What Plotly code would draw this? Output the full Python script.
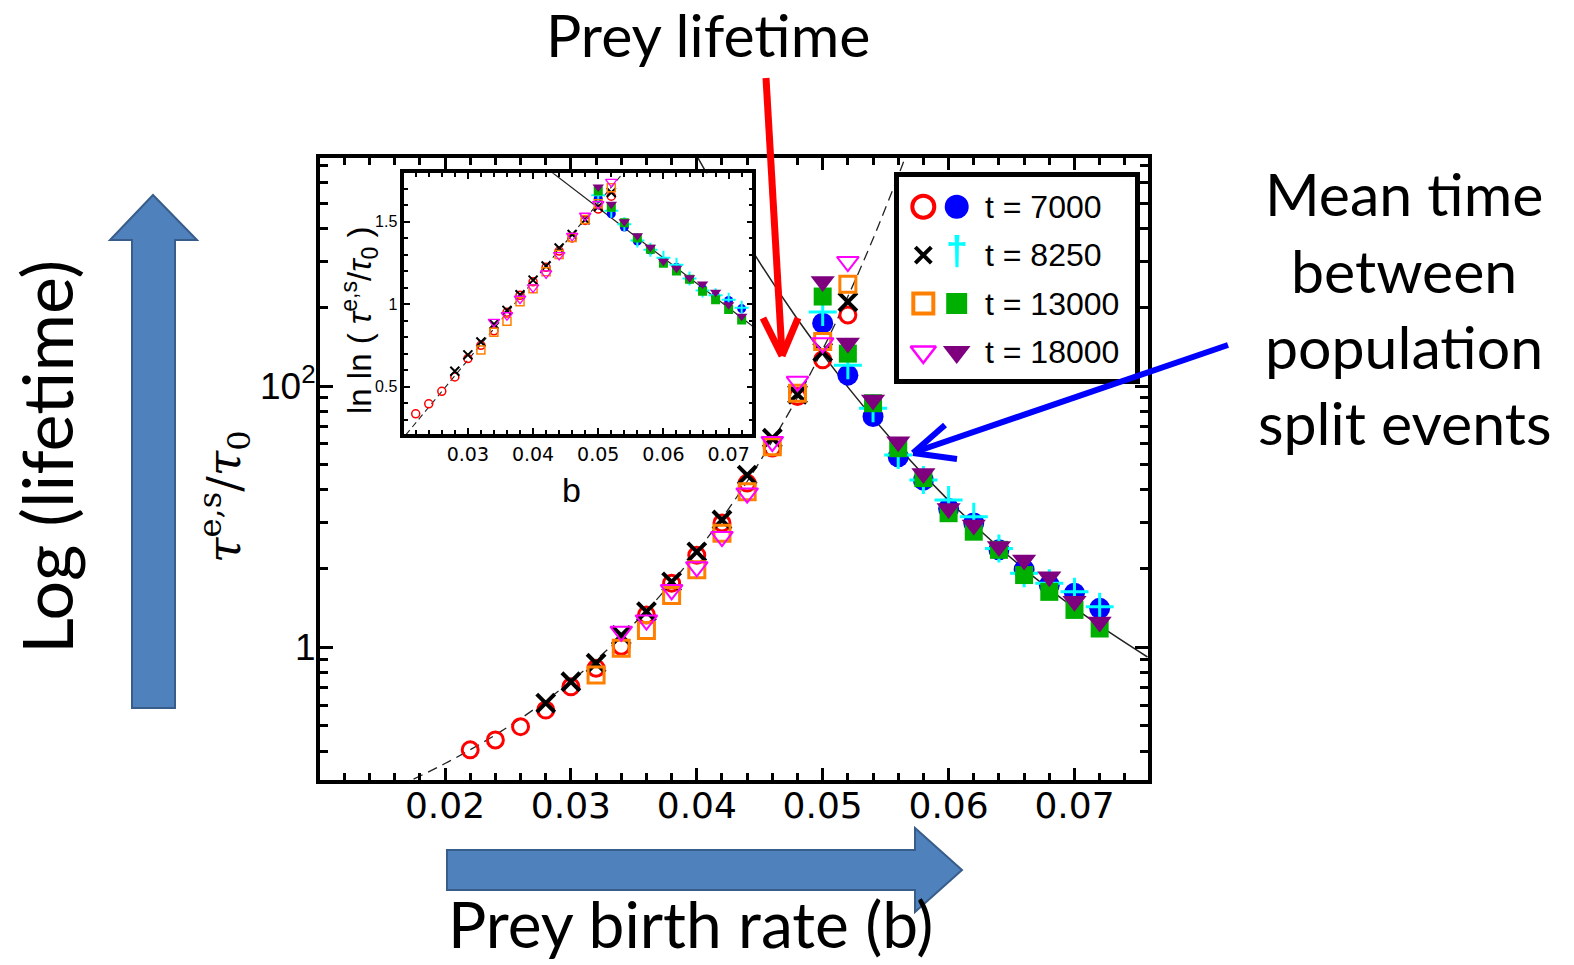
import numpy as np
import plotly.graph_objects as go

# ---------------- data ----------------
# extinction branch (open symbols)
b_ext_7000 = [0.022, 0.024, 0.026, 0.028, 0.030, 0.032, 0.034, 0.036, 0.038, 0.040, 0.042, 0.044, 0.046, 0.048, 0.050, 0.052]
tau_ext_7000 = [4.05, 4.42, 4.97, 5.75, 7.06, 8.32, 10.1, 13.3, 17.6, 22.5, 29.9, 42.5, 57.9, 91.2, 126, 187]
b_ext_8250 = [0.028, 0.030, 0.032, 0.034, 0.036, 0.038, 0.040, 0.042, 0.044, 0.046, 0.048, 0.050, 0.052]
tau_ext_8250 = [6.11, 7.38, 8.69, 11.1, 13.7, 17.8, 23.2, 30.7, 45.6, 63.1, 93.0, 135, 210]
b_ext_13000 = [0.032, 0.034, 0.036, 0.038, 0.040, 0.042, 0.044, 0.046, 0.048, 0.050, 0.052]
tau_ext_13000 = [7.83, 9.91, 11.6, 15.8, 19.8, 27.3, 39.4, 58.6, 93.8, 148, 245]
b_ext_18000 = [0.034, 0.036, 0.038, 0.040, 0.042, 0.044, 0.046, 0.048, 0.050, 0.052]
tau_ext_18000 = [11.5, 12.7, 16.6, 20.3, 26.5, 38.9, 61.2, 104, 146, 299]

# population split branch (filled symbols)
b_split = [0.050, 0.052, 0.054, 0.056, 0.058, 0.060, 0.062, 0.064, 0.066, 0.068, 0.070, 0.072]
tau_split_7000 = [174, 110, 76.4, 53.6, 43.6, 34.0, 29.9, 23.6, 19.8, 17.3, 16.1, 14.1]
tau_split_8250 = [192, 120, 82.2, 54.5, 43.7, 36.6, 31.6, 23.9, 19.2, 17.6, 16.3, 14.3]
tau_split_13000 = [220, 133, 85.9, 57.8, 44.4, 32.6, 27.7, 23.6, 18.9, 16.3, 13.9, 11.8]
tau_split_18000 = [251, 146, 88.3, 61.2, 46.3, 34.0, 29.4, 24.3, 21.6, 18.6, 15.0, 12.5]

# fitted curves, points
b_fit_ext = [0.0175, 0.020, 0.024, 0.028, 0.032, 0.036, 0.040, 0.044, 0.048, 0.050, 0.052, 0.054, 0.056, 0.0565]
tau_fit_ext = [3.13, 3.59, 4.62, 6.24, 8.95, 13.8, 23.2, 43.1, 90.4, 138, 220, 366, 637, 738]
b_fit_split = [0.0401, 0.044, 0.048, 0.052, 0.056, 0.060, 0.064, 0.068, 0.072, 0.0758]
tau_fit_split = [745, 354, 180, 99, 58.3, 36.5, 24.1, 16.7, 12.1, 9.18]

# inset straight fit lines (ln ln scale), end points
b_inset_fit_ext = [0.0205, 0.0540]
lnln_inset_fit_ext = [0.209, 1.804]
b_inset_fit_split = [0.0425, 0.0745]
lnln_inset_fit_split = [1.811, 0.841]

# tick labels
x_tick_vals = [0.02, 0.03, 0.04, 0.05, 0.06, 0.07]
x_tick_text = ["0.02", "0.03", "0.04", "0.05", "0.06", "0.07"]
y_tick_vals = [10, 100]
y_tick_text = ["1", "10<sup>2</sup>"]
y_minor_vals = [4, 5, 6, 7, 8, 9, 20, 30, 40, 50, 60, 70, 80, 90, 200, 300, 400, 500, 600, 700]
inset_x_tick_vals = [0.03, 0.04, 0.05, 0.06, 0.07]
inset_x_tick_text = ["0.03", "0.04", "0.05", "0.06", "0.07"]
inset_y_tick_vals = [0.5, 1.0, 1.5]
inset_y_tick_text = ["0.5", "1", "1.5"]
legend_labels = ["t = 7000", "t = 8250", "t = 13000", "t = 18000"]

# ---------------- layout geometry (pixels) ----------------
FIG_W, FIG_H = 1574, 965
PL, PR, PT, PB = 320, 1148, 158, 780


def px(x):
    return (x - PL) / (PR - PL)


def py(y):
    return (PB - y) / (PB - PT)


def lnln(vals):
    return np.log(np.log(np.asarray(vals, dtype=float)))


styles = {
    "e7000": dict(symbol="circle-open", color="#FF0000", lw=3, size=16, isize=8, ilw=1.5),
    "e8250": dict(symbol="x-thin-open", color="#000000", lw=4, size=18, isize=9, ilw=2),
    "e13000": dict(symbol="square-open", color="#FF8000", lw=3, size=16, isize=8, ilw=1.5),
    "e18000": dict(symbol="triangle-down-open", color="#FF00FF", lw=2, size=19, isize=10, ilw=1.3),
    "s7000": dict(symbol="circle", color="#0000FF", lw=0, size=21, isize=9, ilw=0),
    "s8250": dict(symbol="cross-thin-open", color="#00FFFF", lw=3, size=20, isize=10, ilw=2),
    "s13000": dict(symbol="square", color="#00B000", lw=0, size=18, isize=9, ilw=0),
    "s18000": dict(symbol="triangle-down", color="#7F007F", lw=0, size=21, isize=10, ilw=0),
}

series = [
    ("e7000", b_ext_7000, tau_ext_7000),
    ("s7000", b_split, tau_split_7000),
    ("e8250", b_ext_8250, tau_ext_8250),
    ("s8250", b_split, tau_split_8250),
    ("e13000", b_ext_13000, tau_ext_13000),
    ("s13000", b_split, tau_split_13000),
    ("e18000", b_ext_18000, tau_ext_18000),
    ("s18000", b_split, tau_split_18000),
]

fig = go.Figure()

# main fit curves
fig.add_trace(go.Scatter(x=b_fit_ext, y=tau_fit_ext, mode="lines", line=dict(color="#222222", width=1.3, dash="10px,6px", shape="spline"),
                         xaxis="x", yaxis="y", showlegend=False, hoverinfo="skip"))
fig.add_trace(go.Scatter(x=b_fit_split, y=tau_fit_split, mode="lines", line=dict(color="#222222", width=1.5, shape="spline"),
                         xaxis="x", yaxis="y", showlegend=False, hoverinfo="skip"))

# main data
for key, bx, ty in series:
    st = styles[key]
    fig.add_trace(go.Scatter(x=bx, y=ty, mode="markers", xaxis="x", yaxis="y", showlegend=False,
                             marker=dict(symbol=st["symbol"], color=st["color"], size=st["size"],
                                         line=dict(color=st["color"], width=st["lw"]))))

# inset fit lines
fig.add_trace(go.Scatter(x=b_inset_fit_ext, y=lnln_inset_fit_ext, mode="lines", line=dict(color="#222222", width=1.1, dash="6px,4px"),
                         xaxis="x2", yaxis="y2", showlegend=False, hoverinfo="skip"))
fig.add_trace(go.Scatter(x=b_inset_fit_split, y=lnln_inset_fit_split, mode="lines", line=dict(color="#222222", width=1.2),
                         xaxis="x2", yaxis="y2", showlegend=False, hoverinfo="skip"))

# inset data: same values on ln ln scale
for key, bx, ty in series:
    st = styles[key]
    fig.add_trace(go.Scatter(x=bx, y=lnln(ty), mode="markers", xaxis="x2", yaxis="y2", showlegend=False,
                             marker=dict(symbol=st["symbol"], color=st["color"], size=st["isize"],
                                         line=dict(color=st["color"], width=st["ilw"]))))

# legend markers (two symbols per row)
legend_sizes = {"e7000": (22, 4), "s7000": (24, 0), "e8250": (16, 4), "s8250": (26, 3),
                "e13000": (20, 4), "s13000": (21, 0), "e18000": (22, 2.5), "s18000": (24, 0)}
for i, (key, _, _) in enumerate(series):
    st = styles[key]
    row = i // 2
    col = i % 2
    sz, lw = legend_sizes[key]
    if key == "s8250":
        fig.add_trace(go.Scatter(x=[col], y=[row], mode="text", text=["<b>†</b>"], xaxis="x3", yaxis="y3",
                                 showlegend=False, hoverinfo="skip", textposition="middle center",
                                 textfont=dict(family="Liberation Sans", size=40, color=st["color"])))
    else:
        fig.add_trace(go.Scatter(x=[col], y=[row], mode="markers", xaxis="x3", yaxis="y3", showlegend=False, hoverinfo="skip",
                                 marker=dict(symbol=st["symbol"], color=st["color"], size=sz,
                                             line=dict(color=st["color"], width=lw))))

x_minor = list(np.round(np.arange(0.012, 0.0758, 0.002), 4))
inset_x_minor = list(np.round(np.arange(0.022, 0.0736, 0.002), 4))
inset_y_minor = list(np.round(np.arange(0.3, 1.75, 0.1), 2))

axis_common = dict(showgrid=False, zeroline=False, showline=True, linecolor="black", mirror="allticks",
                   ticks="inside", tickcolor="black")

layout = dict(
    width=FIG_W, height=FIG_H,
    margin=dict(l=PL, r=FIG_W - PR, t=PT, b=FIG_H - PB),
    paper_bgcolor="white", plot_bgcolor="white",
    showlegend=False,
    xaxis=dict(axis_common, domain=[0, 1], range=[0.01007, 0.07584], tickvals=x_tick_vals, ticktext=x_tick_text,
               ticklen=12, tickwidth=3, linewidth=4, anchor="y", ticklabelstandoff=-9,
               tickfont=dict(family="DejaVu Sans", size=36, color="black"),
               minor=dict(tickvals=x_minor, ticks="inside", ticklen=7, tickwidth=2.5, tickcolor="black")),
    yaxis=dict(axis_common, type="log", domain=[0, 1], range=[0.4921, 2.8726], tickvals=y_tick_vals, ticktext=y_tick_text,
               ticklen=13, tickwidth=3, linewidth=4, anchor="x", ticklabelstandoff=-7,
               tickfont=dict(family="Liberation Sans", size=37, color="black"),
               minor=dict(tickvals=y_minor_vals, ticks="inside", ticklen=8, tickwidth=2.5, tickcolor="black")),
    xaxis2=dict(axis_common, domain=[px(404.3), px(752.3)], range=[0.02025, 0.07363], anchor="y2",
                tickvals=inset_x_tick_vals, ticktext=inset_x_tick_text, ticklen=6, tickwidth=2, linewidth=3.5,
                tickfont=dict(family="DejaVu Sans", size=19, color="black"),
                minor=dict(tickvals=inset_x_minor, ticks="inside", ticklen=4, tickwidth=1.5, tickcolor="black")),
    yaxis2=dict(axis_common, domain=[py(434), py(173.3)], range=[0.2133, 1.793], anchor="x2",
                tickvals=inset_y_tick_vals, ticktext=inset_y_tick_text, ticklen=6, tickwidth=2, linewidth=3.5,
                tickfont=dict(family="Liberation Sans", size=16, color="black"),
                minor=dict(tickvals=inset_y_minor, ticks="inside", ticklen=4, tickwidth=1.5, tickcolor="black")),
    xaxis3=dict(domain=[px(899), px(1135)], range=[-0.728, 6.34], anchor="y3", showgrid=False, zeroline=False,
                showline=True, linecolor="black", linewidth=4.5, mirror=True, showticklabels=False, ticks=""),
    yaxis3=dict(domain=[py(379), py(177)], range=[3.56, -0.614], anchor="x3", showgrid=False, zeroline=False,
                showline=True, linecolor="black", linewidth=4.5, mirror=True, showticklabels=False, ticks=""),
)
fig.update_layout(**layout)

annotations = []


def txt(x, y, s, size, angle=0, family="Lato"):
    annotations.append(dict(x=px(x), y=py(y), xref="paper", yref="paper", text=s, showarrow=False,
                            font=dict(family=family, size=size, color="black"), textangle=angle,
                            xanchor="center", yanchor="middle"))


txt(708, 34, "Prey lifetime", 59)
txt(1404, 193, "Mean time", 59)
txt(1404, 270, "between", 59)
txt(1404, 346, "population", 59)
txt(1404, 422, "split events", 59)
txt(46, 457, "Log (lifetime)", 70, angle=-90)
txt(690, 924, "Prey birth rate (b)", 64)
txt(224, 497, "<i>τ</i><sup>e,s</sup>/<i>τ</i><sub>0</sub>", 46, angle=-90, family="DejaVu Serif")
txt(359, 320, "ln ln ( <i>τ</i><sup>e,s</sup>/<i>τ</i><sub>0</sub> )", 33, angle=-90, family="Liberation Sans")
txt(571, 490, "b", 34, family="Liberation Sans")

for r, lab in enumerate(legend_labels):
    annotations.append(dict(x=1.79, y=r, xref="x3", yref="y3", text=lab, showarrow=False,
                            font=dict(family="Liberation Sans", size=32, color="black"),
                            xanchor="left", yanchor="middle"))

fig.update_layout(annotations=annotations)


def path(points):
    return "M " + " L ".join(f"{px(x):.5f},{py(y):.5f}" for x, y in points) + " Z"


shapes = []
# block arrows
shapes.append(dict(type="path", xref="paper", yref="paper",
                   path=path([(132, 708), (132, 240), (110, 240), (153, 195), (197, 240), (175, 240), (175, 708)]),
                   fillcolor="#4F81BD", line=dict(color="#385D8A", width=2)))
shapes.append(dict(type="path", xref="paper", yref="paper",
                   path=path([(447, 850), (915, 850), (915, 828), (962, 870), (915, 912), (915, 890), (447, 890)]),
                   fillcolor="#4F81BD", line=dict(color="#385D8A", width=2)))


def seg(x0, y0, x1, y1, color, width):
    shapes.append(dict(type="line", xref="paper", yref="paper", x0=px(x0), y0=py(y0), x1=px(x1), y1=py(y1),
                       line=dict(color=color, width=width)))


# red arrow
seg(766, 78, 782, 354, "#FF0000", 7)
seg(782, 356, 763, 318, "#FF0000", 7)
seg(782, 356, 798, 318, "#FF0000", 7)
# blue arrow
seg(1228, 345, 915, 452, "#0000FF", 6)
seg(913, 453, 945, 425, "#0000FF", 6)
seg(913, 453, 957, 459, "#0000FF", 6)

fig.update_layout(shapes=shapes)

fig.write_html("out.html", config={"displayModeBar": False},
               post_script="document.body.style.margin='0';document.body.style.overflow='hidden';")
